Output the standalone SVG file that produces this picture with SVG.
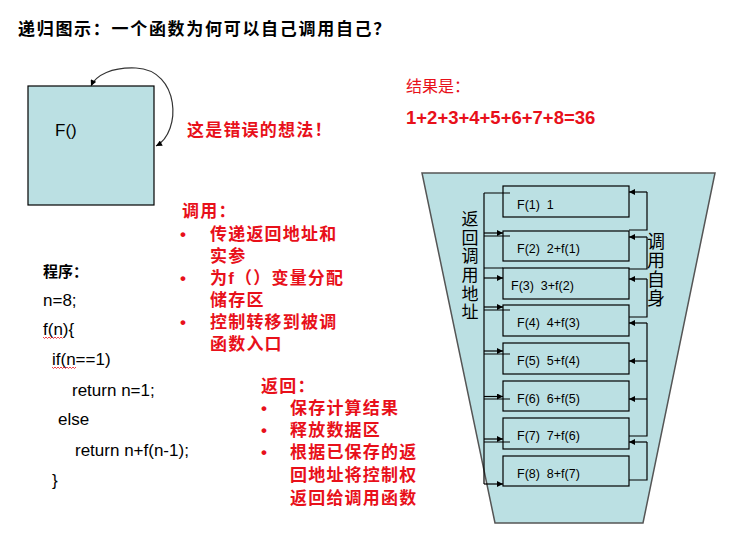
<svg xmlns="http://www.w3.org/2000/svg" width="742" height="549" viewBox="0 0 742 549">
<defs>
<style>
.title{font-family:"Liberation Sans","Noto Sans CJK SC",sans-serif;font-weight:bold;font-size:17px;letter-spacing:1.7px;fill:#000}
.red{font-family:"Liberation Sans","Noto Sans CJK SC",sans-serif;font-weight:bold;font-size:17px;letter-spacing:1.2px;fill:#e8101a}
.redr{font-family:"Liberation Sans","Noto Sans CJK SC",sans-serif;font-size:16px;fill:#e8101a}
.code{font-family:"Liberation Sans","Noto Sans CJK SC",sans-serif;font-size:17px;fill:#000}
.box{fill:#bbe0e3;stroke:#000;stroke-width:1.2}
.bt{font-family:"Liberation Sans",sans-serif;font-size:12.5px;fill:#000;white-space:pre}
.vt{font-family:"Noto Sans CJK SC",sans-serif;fill:#000;writing-mode:vertical-rl}
.ln{fill:none;stroke:#000;stroke-width:1.2}
.sq{fill:none;stroke:#e8101a;stroke-width:0.8}
</style>
<marker id="ah" viewBox="0 0 10 10" refX="10" refY="5" markerWidth="8" markerHeight="6" orient="auto-start-reverse" markerUnits="userSpaceOnUse">
<path d="M0,0 L10,5 L0,10 z" fill="#000"/>
</marker>
</defs>
<rect width="742" height="549" fill="#fff"/>

<text class="title" x="18" y="35">递归图示：一个函数为何可以自己调用自己？</text>

<g id="fbox">
<rect x="28" y="86" width="126" height="119" fill="#bbe0e3" stroke="#000" stroke-width="1.2"/>
<text class="code" x="55" y="136">F()</text>
</g>
<g id="wrong">
<text class="red" x="187" y="136">这是错误的想法！</text>
</g>
<g id="result">
<text class="redr" x="406" y="92">结果是：</text>
<text x="406" y="124" style="font-family:'Liberation Sans',sans-serif;font-weight:bold;font-size:18.5px;fill:#e8101a">1+2+3+4+5+6+7+8=36</text>
</g>

<g id="call">
<text class="red" x="182" y="217">调用：</text>
<text class="red" x="180" y="240">•</text>
<text class="red" x="210" y="240">传递返回地址和</text>
<text class="red" x="210" y="262">实参</text>
<text class="red" x="180" y="284">•</text>
<text class="red" x="210" y="284">为f（）变量分配</text>
<text class="red" x="210" y="306">储存区</text>
<text class="red" x="180" y="328">•</text>
<text class="red" x="210" y="328">控制转移到被调</text>
<text class="red" x="210" y="350">函数入口</text>
</g>

<g id="ret">
<text class="red" x="261" y="392">返回：</text>
<text class="red" x="261" y="414">•</text>
<text class="red" x="290" y="414">保存计算结果</text>
<text class="red" x="261" y="436">•</text>
<text class="red" x="290" y="436">释放数据区</text>
<text class="red" x="261" y="458">•</text>
<text class="red" x="290" y="458">根据已保存的返</text>
<text class="red" x="290" y="481">回地址将控制权</text>
<text class="red" x="290" y="504">返回给调用函数</text>
</g>

<g id="program">
<text class="code" x="43" y="277" style="font-weight:bold;font-size:15px">程序：</text>
<text class="code" x="43" y="306">n=8;</text>
<text class="code" x="43" y="335">f(n){</text>
<text class="code" x="52" y="365">if(n==1)</text>
<text class="code" x="72" y="396">return n=1;</text>
<text class="code" x="58" y="425">else</text>
<text class="code" x="75" y="456">return n+f(n-1);</text>
<text class="code" x="52" y="486">}</text>
<path class="sq" d="M43,337 l1.5,1.5 l1.5,-1.5 l1.5,1.5 l1.5,-1.5 l1.5,1.5 l1.5,-1.5 l1.5,1.5 l1.5,-1.5 l1.5,1.5 l1.5,-1.5 l1.5,1.5 l1.5,-1.5 l1.5,1.5"/>
<path class="sq" d="M52,367 l1.5,1.5 l1.5,-1.5 l1.5,1.5 l1.5,-1.5 l1.5,1.5 l1.5,-1.5 l1.5,1.5 l1.5,-1.5 l1.5,1.5 l1.5,-1.5 l1.5,1.5 l1.5,-1.5 l1.5,1.5 l1.5,-1.5 l1.5,1.5 l1.5,-1.5"/>
</g>

<g id="stack">
<polygon points="422,173 715,173 643,523 495,523" fill="#bbe0e3" stroke="#555" stroke-width="1.5"/>
<g id="f1"><rect class="box" x="503" y="186" width="126" height="31"/><text class="bt" x="517" y="209">F(1)  1</text></g>
<g id="f2"><rect class="box" x="503" y="231" width="126" height="30"/><text class="bt" x="517" y="253">F(2)  2+f(1)</text></g>
<g id="f3"><rect class="box" x="503" y="268" width="126" height="31"/><text class="bt" x="511" y="290">F(3)  3+f(2)</text></g>
<g id="f4"><rect class="box" x="503" y="305" width="126" height="31"/><text class="bt" x="517" y="327">F(4)  4+f(3)</text></g>
<g id="f5"><rect class="box" x="503" y="343" width="126" height="31"/><text class="bt" x="517" y="365">F(5)  5+f(4)</text></g>
<g id="f6"><rect class="box" x="503" y="381" width="126" height="30"/><text class="bt" x="517" y="403">F(6)  6+f(5)</text></g>
<g id="f7"><rect class="box" x="503" y="418" width="126" height="31"/><text class="bt" x="517" y="440">F(7)  7+f(6)</text></g>
<g id="f8"><rect class="box" x="503" y="456" width="126" height="30"/><text class="bt" x="517" y="478">F(8)  8+f(7)</text></g>
<g id="lbl-ret">
<text class="vt" x="470" y="210" style="font-size:17px;letter-spacing:1.7px">返回调用地址</text>
</g>
<g id="lbl-call">
<text class="vt" x="656" y="232" style="font-size:18px;letter-spacing:1.2px">调用自身</text>
</g>
</g>

<g id="connectors">
<path d="M156,146 C182,132 180,70 136,68 C112,67 96,75 91,86" fill="none" stroke="#333" stroke-width="1.2" marker-start="url(#ah)" marker-end="url(#ah)"/>
<path class="ln" d="M484,193 V484"/>
<path class="ln" d="M510,193 H484 M510,236 H484 M503,268 H484 M510,310 H484 M510,354 H484 M510,399 H484 M510,442 H484"/>
<path class="ln" d="M484,233 H503" marker-end="url(#ah)"/>
<path class="ln" d="M484,278 H503" marker-end="url(#ah)"/>
<path class="ln" d="M484,307 H503" marker-end="url(#ah)"/>
<path class="ln" d="M484,351 H503" marker-end="url(#ah)"/>
<path class="ln" d="M484,396.5 H503" marker-end="url(#ah)"/>
<path class="ln" d="M484,439 H503" marker-end="url(#ah)"/>
<path class="ln" d="M484,484 H503" marker-end="url(#ah)"/>
<path class="ln" d="M647,192 V230 H629 M647,237 V269 H629 M647,279 V317 H629 M647,323 V436 H629 M647,442 V480 H629"/>
<path class="ln" d="M647,192 H629" marker-end="url(#ah)"/>
<path class="ln" d="M647,237 H629" marker-end="url(#ah)"/>
<path class="ln" d="M647,279 H629" marker-end="url(#ah)"/>
<path class="ln" d="M647,323 H629" marker-end="url(#ah)"/>
<path class="ln" d="M647,361 H629" marker-end="url(#ah)"/>
<path class="ln" d="M647,399 H629" marker-end="url(#ah)"/>
<path class="ln" d="M647,442 H629" marker-end="url(#ah)"/>
</g>
</svg>
